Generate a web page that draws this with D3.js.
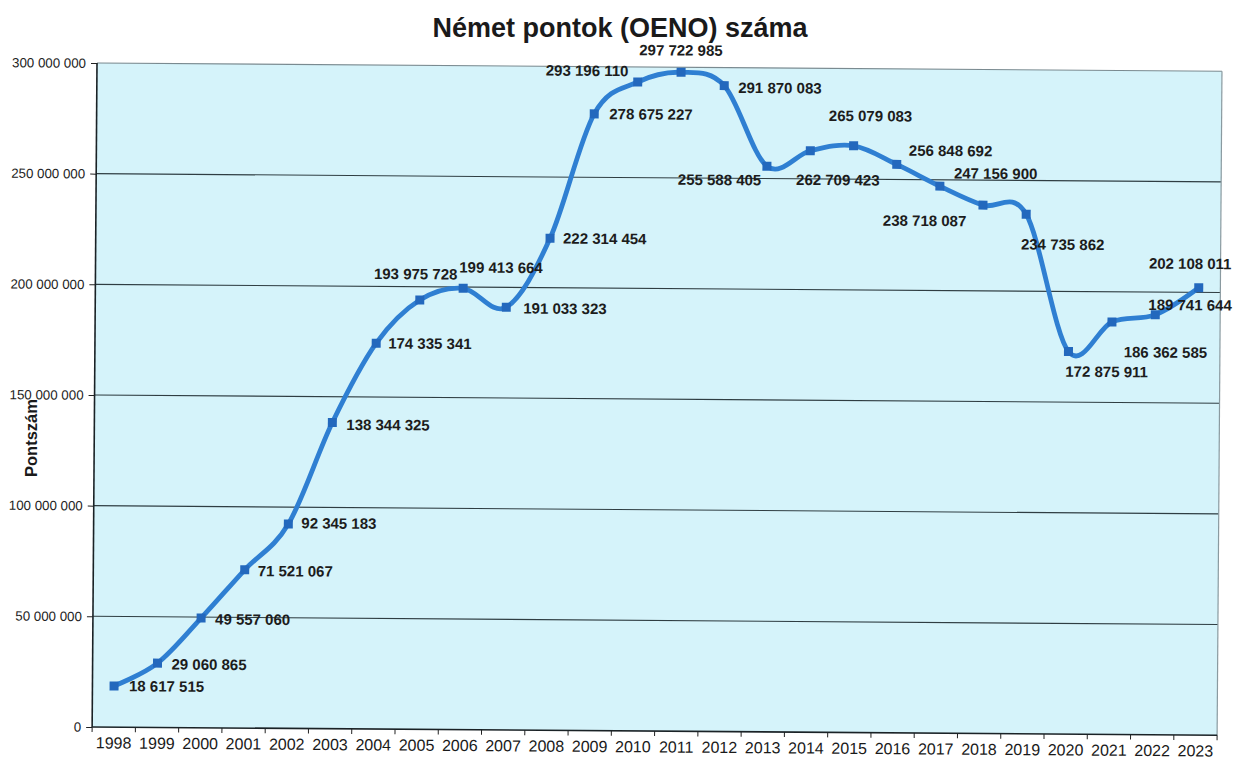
<!DOCTYPE html>
<html><head><meta charset="utf-8">
<script src="https://cdn.jsdelivr.net/npm/d3@7"></script>
<style>
body{margin:0;background:#fff;}
svg{display:block;font-family:"Liberation Sans",Arial,sans-serif;}
</style>
</head><body>
<svg id="c" width="1243" height="760"></svg>
<script>
// ---- data ----
const years = ["1998","1999","2000","2001","2002","2003","2004","2005","2006","2007","2008","2009","2010",
               "2011","2012","2013","2014","2015","2016","2017","2018","2019","2020","2021","2022","2023"];
const values = [18617515, 29060865, 49557060, 71521067, 92345183, 138344325, 174335341, 193975728,
                199413664, 191033323, 222314454, 278675227, 293196110, 297722985, 291870083, 255588405,
                262709423, 265079083, 256848692, 247156900, 238718087, 234735862, 172875911, 186362585,
                189741644, 202108011];
const yTicks = [0, 50000000, 100000000, 150000000, 200000000, 250000000, 300000000];
const title = "Német pontok (OENO) száma";
const yTitle = "Pontszám";
// label placement (dx, dy from marker to label's left/middle) – styling only
const labelOffsets = [[15,0],[14,1],[14,1],[13,1],[13,-1],[14,2],[12,0],[-46,-26],[-4,-21],[17,1],[13,0],
  [15,0],[-92,-11],[-42,-22],[14,2],[-89,14],[-14,29],[-25,-30],[12,-14],[14,-13],[-100,16],[-5,30],
  [-3,20],[12,30],[-7,-10],[-50,-24]];

// ---- layout ----
const L = 97, T = 63, W = 1125, H = 664;
const svg = d3.select("#c");
const fmt = d3.formatLocale({decimal:",", thousands:" ", grouping:[3], currency:["",""]}).format(",d");

svg.append("text").attr("x", 620).attr("y", 37).attr("text-anchor","middle")
  .attr("font-size", 27).attr("font-weight","bold").attr("fill","#1a1a1a").text(title);

const g = svg.append("g").attr("transform", `rotate(0.42,${L},${T})`);

const x = d3.scaleBand().domain(years).range([L, L + W]);
const y = d3.scaleLinear().domain([0, 300000000]).range([T + H, T]);
const cx = d => x(d) + x.bandwidth() / 2;

// plot background
g.append("rect").attr("x", L).attr("y", T).attr("width", W).attr("height", H).attr("fill", "#d5f3fa");

// gridlines
g.append("g").selectAll("line").data(yTicks.filter(v => v > 0)).join("line")
  .attr("x1", L).attr("x2", L + W).attr("y1", d => y(d)).attr("y2", d => y(d))
  .attr("stroke", d => d === 300000000 ? "#7a8a90" : "#2f3d42").attr("stroke-width", 1.1);
// right border
g.append("line").attr("x1", L + W).attr("x2", L + W).attr("y1", T).attr("y2", T + H)
  .attr("stroke", "#8a9aa0").attr("stroke-width", 1.2);

// y axis
const ya = g.append("g").attr("transform", `translate(${L},0)`)
  .call(d3.axisLeft(y).tickValues(yTicks).tickSize(6).tickPadding(5).tickFormat(fmt));
ya.select(".domain").remove();
ya.selectAll(".tick line").attr("stroke", "#222");
ya.selectAll("text").attr("font-size", 13.3).attr("fill", "#222").attr("font-family", "Liberation Sans, Arial, sans-serif");
g.append("line").attr("x1", L).attr("x2", L).attr("y1", T).attr("y2", T + H)
  .attr("stroke", "#1a2226").attr("stroke-width", 1.6);

// x axis
const xa = g.append("g").attr("transform", `translate(0,${T + H})`)
  .call(d3.axisBottom(x).tickSize(0).tickPadding(10));
xa.select(".domain").remove();
xa.selectAll("text").attr("font-size", 16).attr("fill", "#1a1a1a").attr("font-family", "Liberation Sans, Arial, sans-serif");
g.append("g").selectAll("line").data(years.concat(["end"])).join("line")
  .attr("x1", (d, i) => L + i * x.step()).attr("x2", (d, i) => L + i * x.step())
  .attr("y1", T + H).attr("y2", T + H + 5).attr("stroke", "#222");
g.append("line").attr("x1", L).attr("x2", L + W).attr("y1", T + H).attr("y2", T + H)
  .attr("stroke", "#1a2226").attr("stroke-width", 1.6);

// y title
svg.append("text").attr("transform", "translate(37,438) rotate(-90)").attr("text-anchor", "middle")
  .attr("font-size", 16.5).attr("font-weight", "bold").attr("fill", "#1a1a1a").text(yTitle);

// line
const pts = years.map((yr, i) => ({yr, v: values[i], i}));
g.append("path").datum(pts)
  .attr("d", d3.line().x(d => cx(d.yr)).y(d => y(d.v)).curve(d3.curveCatmullRom.alpha(0)))
  .attr("fill", "none").attr("stroke", "#2f7fd2").attr("stroke-width", 4.8).attr("stroke-linejoin", "round");

// markers
g.append("g").selectAll("rect").data(pts).join("rect")
  .attr("x", d => cx(d.yr) - 4.5).attr("y", d => y(d.v) - 4.5).attr("width", 9).attr("height", 9)
  .attr("fill", "#2368bd");

// labels
g.append("g").selectAll("text").data(pts).join("text")
  .attr("x", d => cx(d.yr) + labelOffsets[d.i][0])
  .attr("y", d => y(d.v) + labelOffsets[d.i][1])
  .attr("dy", "0.35em").attr("font-size", 15).attr("font-weight", "bold").attr("fill", "#1c1c1c")
  .text(d => fmt(d.v));
</script>
</body></html>
